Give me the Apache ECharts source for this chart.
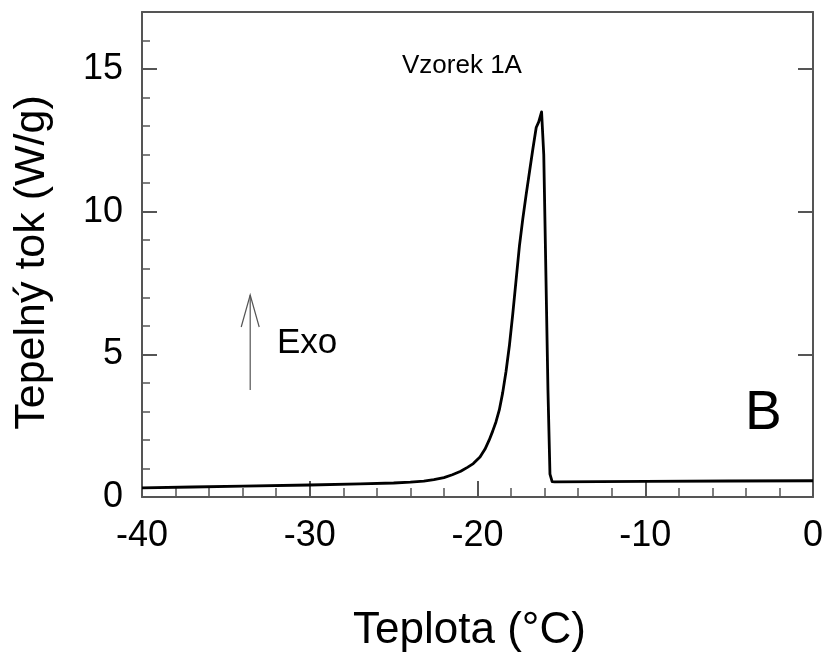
<!DOCTYPE html>
<html>
<head>
<meta charset="utf-8">
<script src="https://cdn.jsdelivr.net/npm/echarts@6/dist/echarts.min.js"></script>
<style>
html,body{margin:0;padding:0;background:#fff;}
#c{width:827px;height:660px;}
</style>
</head>
<body>
<div id="c"></div>
<script>
// Data (temperature °C, heat flow W/g)
const temperature = [-40, -37, -34, -30, -27, -25, -24, -23.2, -22.6, -22, -21.5, -21, -20.6, -20.25, -19.85, -19.55, -19.3, -19.1, -18.9, -18.7, -18.5, -18.3, -18.1, -17.9, -17.7, -17.5, -17.3, -17.1, -16.9, -16.7, -16.5, -16.35, -16.18, -16.05, -15.94, -15.8, -15.68, -15.55, -15.4, -10, -5, 0];
const heatFlow =    [0.32, 0.35, 0.38, 0.42, 0.46, 0.49, 0.52, 0.56, 0.61, 0.68, 0.78, 0.90, 1.04, 1.17, 1.40, 1.68, 2.00, 2.30, 2.63, 3.05, 3.65, 4.40, 5.30, 6.40, 7.60, 8.80, 9.75, 10.6, 11.4, 12.2, 12.95, 13.15, 13.5, 12.0, 8.4, 3.75, 0.8, 0.54, 0.53, 0.55, 0.56, 0.57];
const xTicks = { min: -40, max: 0, interval: 10 };
const yTicks = { min: 0, max: 17, interval: 5 };
const xTitle = 'Teplota (°C)';
const yTitle = 'Tepelný tok (W/g)';
const sampleLabel = 'Vzorek 1A';
const exoLabel = 'Exo';
const panelLabel = 'B';

const FONT = '"Liberation Sans", Arial, sans-serif';
const axisColor = '#555';

const chart = echarts.init(document.getElementById('c'), null, { renderer: 'canvas' });
const points = temperature.map((t, i) => [t, heatFlow[i]]);

chart.setOption({
  animation: false,
  backgroundColor: '#fff',
  grid: { left: 142, right: 14, top: 12, bottom: 163, containLabel: false },
  xAxis: [
    {
      type: 'value', position: 'bottom',
      min: xTicks.min, max: xTicks.max, interval: xTicks.interval,
      name: xTitle, nameLocation: 'middle', nameGap: 112,
      nameTextStyle: { fontFamily: FONT, fontSize: 44, color: '#000', padding: [0, 16, 0, 0] },
      axisLine: { show: true, onZero: false, lineStyle: { color: axisColor, width: 2 } },
      axisTick: { show: true, inside: true, length: 16, lineStyle: { color: axisColor, width: 2 } },
      minorTick: { show: true, splitNumber: 5, length: 9, lineStyle: { color: axisColor, width: 1.5 } },
      axisLabel: { fontFamily: FONT, fontSize: 36, color: '#000', margin: 21 },
      splitLine: { show: false }
    },
    {
      type: 'value', position: 'top',
      min: xTicks.min, max: xTicks.max, interval: xTicks.interval,
      axisLine: { show: true, onZero: false, lineStyle: { color: axisColor, width: 2 } },
      axisTick: { show: false }, axisLabel: { show: false }, splitLine: { show: false }
    }
  ],
  yAxis: [
    {
      type: 'value', position: 'left',
      min: yTicks.min, max: yTicks.max, interval: yTicks.interval,
      name: yTitle, nameLocation: 'middle', nameGap: 88, nameRotate: 90,
      nameTextStyle: { fontFamily: FONT, fontSize: 43, color: '#000', padding: [0, 16, 0, 0] },
      axisLine: { show: true, onZero: false, lineStyle: { color: axisColor, width: 2 } },
      axisTick: { show: true, inside: true, length: 15, lineStyle: { color: axisColor, width: 2 } },
      axisLabel: { fontFamily: FONT, fontSize: 36, color: '#000', margin: 19, showMaxLabel: false },
      splitLine: { show: false }
    },
    {
      type: 'value', position: 'left',
      min: yTicks.min, max: yTicks.max, interval: 1,
      axisLine: { show: false, onZero: false },
      axisTick: { show: true, inside: true, length: 8, lineStyle: { color: axisColor, width: 1.5 } },
      axisLabel: { show: false }, splitLine: { show: false }
    },
    {
      type: 'value', position: 'right',
      min: yTicks.min, max: yTicks.max, interval: yTicks.interval,
      axisLine: { show: true, onZero: false, lineStyle: { color: axisColor, width: 2 } },
      axisTick: { show: true, inside: true, length: 15, lineStyle: { color: axisColor, width: 2 } },
      axisLabel: { show: false }, splitLine: { show: false }
    }
  ],
  series: [
    {
      type: 'line', xAxisIndex: 0, yAxisIndex: 0,
      data: points, showSymbol: false, smooth: false,
      lineStyle: { color: '#000', width: 2.8, join: 'round' }
    }
  ]
});

// Annotations
const arrowBase = chart.convertToPixel({ xAxisIndex: 0, yAxisIndex: 0 }, [-33.55, 3.75]);
const arrowTip = chart.convertToPixel({ xAxisIndex: 0, yAxisIndex: 0 }, [-33.55, 7.08]);
chart.setOption({
  graphic: [
    { type: 'line', shape: { x1: arrowBase[0], y1: arrowBase[1], x2: arrowTip[0], y2: arrowTip[1] },
      style: { stroke: '#555', lineWidth: 1.2 } },
    { type: 'polyline', shape: { points: [[arrowTip[0] - 9, arrowTip[1] + 32], [arrowTip[0], arrowTip[1]], [arrowTip[0] + 9, arrowTip[1] + 32]] },
      style: { stroke: '#555', lineWidth: 1.2, fill: null } },
    { type: 'text', x: 277, y: 343, style: { text: exoLabel, font: '35px ' + FONT, fill: '#000', textVerticalAlign: 'middle', textAlign: 'left' } },
    { type: 'text', x: 402, y: 66, style: { text: sampleLabel, font: '26px ' + FONT, fill: '#000', textVerticalAlign: 'middle', textAlign: 'left' } },
    { type: 'text', x: 745, y: 414, style: { text: panelLabel, font: '55px ' + FONT, fill: '#000', textVerticalAlign: 'middle', textAlign: 'left' } }
  ]
});
</script>
</body>
</html>
